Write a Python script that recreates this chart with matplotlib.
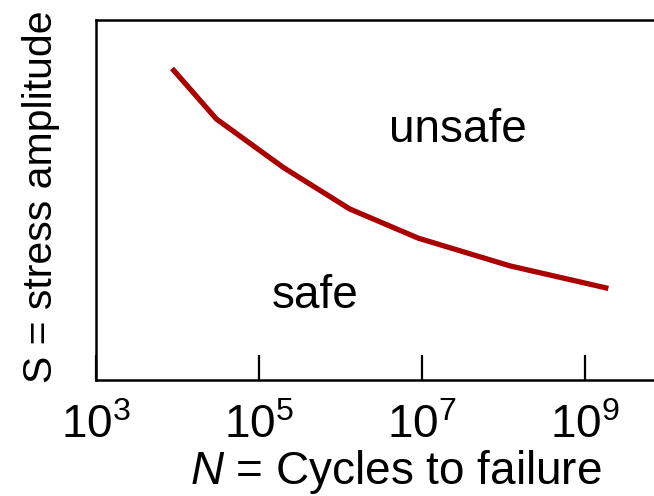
import matplotlib
matplotlib.use("Agg")
import matplotlib.pyplot as plt

# S-N curve (arbitrary stress units)
cycles = [9e3, 3e4, 2e5, 1.3e6, 9e6, 1.2e8, 1.8e9]
stress = [0.86, 0.725, 0.59, 0.475, 0.394, 0.317, 0.256]
tick_pos = [1e3, 1e5, 1e7, 1e9]
tick_lbl = ["$10^{3}$", "$10^{5}$", "$10^{7}$", "$10^{9}$"]

plt.rcParams['font.family'] = ['Liberation Sans', 'DejaVu Sans']
plt.rcParams['mathtext.fontset'] = 'custom'
plt.rcParams['mathtext.rm'] = 'Liberation Sans'
plt.rcParams['mathtext.it'] = 'Liberation Sans:italic'

W, H = 654, 496
fig = plt.figure(figsize=(W / 100, H / 100), dpi=100)
# axes runs past the right edge of the figure, like the cropped original
x0, x1 = 96, 96 + 7 * 81.5
aw = x1 - x0
ax = fig.add_axes([x0 / W, 1 - 380 / H, aw / W, 360 / H])

ax.plot(cycles, stress, color='#aa0000', lw=3.8, solid_joinstyle='miter')
ax.set_xscale('log')
ax.set_xlim(1e3, 1e10)
ax.set_ylim(0, 1)

ax.set_xticks(tick_pos)
ax.set_xticklabels(tick_lbl, fontsize=33)
ax.minorticks_off()
ax.tick_params(axis='x', direction='in', length=18, width=1.6, pad=17)
ax.set_yticks([])
for s in ax.spines.values():
    s.set_linewidth(1.8)

ax.set_xlabel("$N$ = Cycles to failure", fontsize=33)
ax.xaxis.set_label_coords((396 - x0) / aw, (380 - 448) / 360)
ax.set_ylabel("S = stress amplitude", fontsize=29.5)
ax.yaxis.set_label_coords((60 - x0) / aw, (380 - 197) / 360)

ax.text(2.76e7, 0.661, "unsafe", fontsize=33, ha='center', va='baseline')
ax.text(4.9e5, 0.2, "safe", fontsize=33, ha='center', va='baseline')

fig.savefig("out.png", dpi=100)
